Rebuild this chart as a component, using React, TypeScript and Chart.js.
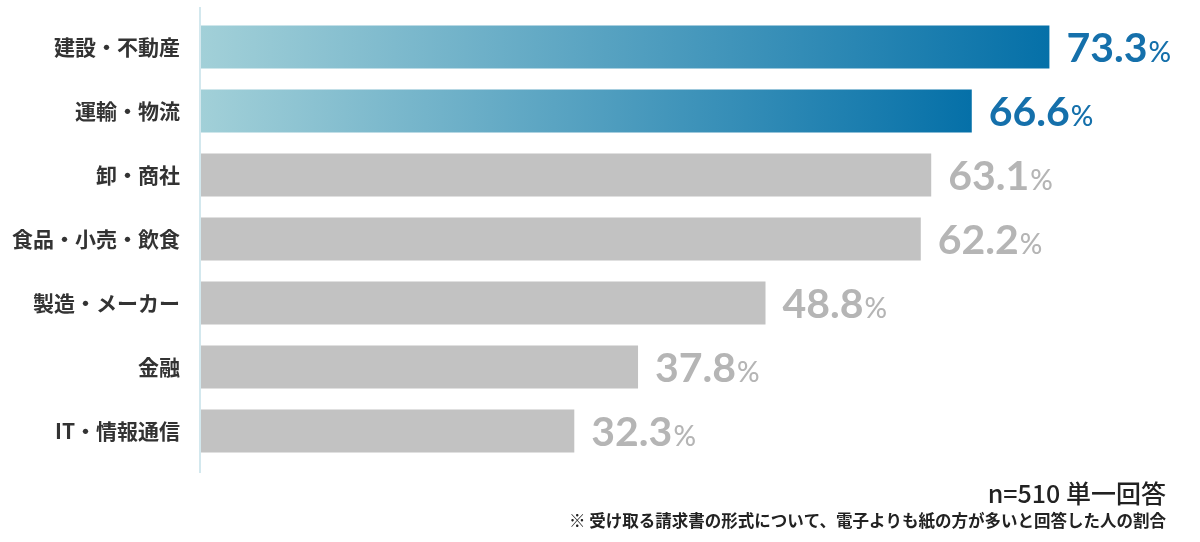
import React, { useEffect, useRef } from "react";
import { Chart, registerables } from "chart.js";

Chart.register(...registerables);

const categories = ["建設・不動産", "運輸・物流", "卸・商社", "食品・小売・飲食", "製造・メーカー", "金融", "IT・情報通信"];
const values = [73.3, 66.6, 63.1, 62.2, 48.8, 37.8, 32.3];
const highlighted = [true, true, false, false, false, false, false];
const sampleNote = "n=510 単一回答";
const footNote = "※ 受け取る請求書の形式について、電子よりも紙の方が多いと回答した人の割合";

const GRAY_BAR = "#c2c2c2";
const GRAY_TEXT = "#b5b5b5";
const BLUE_TEXT = "#1570ab";
const GRAD_LEFT = "#a2d0d8";
const GRAD_RIGHT = "#0570a8";

const overlayPlugin = {
  id: "overlay",
  afterDatasetsDraw(chart: any) {
    const ctx = chart.ctx;
    const area = chart.chartArea;
    ctx.save();
    // axis line
    ctx.strokeStyle = "#d3e8ee";
    ctx.lineWidth = 2;
    ctx.beginPath();
    ctx.moveTo(area.left, Math.max(area.top - 8, 5));
    ctx.lineTo(area.left, area.bottom + 10);
    ctx.stroke();

    const meta = chart.getDatasetMeta(0);
    meta.data.forEach((bar: any, i: number) => {
      const color = highlighted[i] ? BLUE_TEXT : GRAY_TEXT;
      const num = values[i].toFixed(1);
      const x = bar.x + 17;
      const y = bar.y + 15;
      ctx.fillStyle = color;
      ctx.textAlign = "left";
      ctx.textBaseline = "alphabetic";
      ctx.font = "bold 41px Lato";
      ctx.fillText(num, x, y);
      const w = ctx.measureText(num).width;
      ctx.font = "500 28px Lato";
      ctx.fillText("%", x + w + 1, y);
    });

    ctx.fillStyle = "#222";
    ctx.textAlign = "right";
    ctx.font = "500 25px 'Noto Sans CJK JP'";
    ctx.textBaseline = "middle";
    ctx.fillText(sampleNote, 1166, 493);
    ctx.font = "bold 16.5px 'Noto Sans CJK JP'";
    ctx.fillText(footNote, 1166, 521);
    ctx.restore();
  },
};

export default function App() {
  const ref = useRef<HTMLCanvasElement | null>(null);
  useEffect(() => {
    if (!ref.current) return;
    const chart = new Chart(ref.current, {
      type: "bar",
      data: {
        labels: categories,
        datasets: [
          {
            data: values,
            borderWidth: 0,
            barPercentage: 0.672,
            categoryPercentage: 1,
            backgroundColor: (c: any) => {
              const i = c.dataIndex;
              if (!highlighted[i]) return GRAY_BAR;
              const chartObj = c.chart;
              const area = chartObj.chartArea;
              if (!area) return GRAD_RIGHT;
              const x0 = chartObj.scales.x.getPixelForValue(0);
              const x1 = chartObj.scales.x.getPixelForValue(values[i]);
              const g = chartObj.ctx.createLinearGradient(x0, 0, x1, 0);
              g.addColorStop(0, GRAD_LEFT);
              g.addColorStop(1, GRAD_RIGHT);
              return g;
            },
          },
        ],
      },
      options: {
        indexAxis: "y",
        animation: false,
        responsive: false,
        maintainAspectRatio: false,
        layout: { padding: { left: 0, right: 15, top: 15, bottom: 79 } },
        plugins: { legend: { display: false }, tooltip: { enabled: false } },
        scales: {
          x: { display: false, min: 0, max: 85 },
          y: {
            grid: { display: false },
            border: { display: false },
            ticks: {
              padding: 12,
              color: "#333",
              font: { family: "'Noto Sans CJK JP'", size: 21, weight: "bold" },
            },
            afterFit: (s: any) => {
              s.width = 200;
              s.paddingTop = 0;
              s.paddingBottom = 0;
            },
          },
        },
      },
      plugins: [overlayPlugin],
    } as any);
    return () => chart.destroy();
  }, []);
  return (
    <div style={{ position: "absolute", left: 0, top: 0, width: 1200, height: 542, background: "#fff" }}>
      <canvas ref={ref} width={1200} height={542} style={{ width: 1200, height: 542 }} />
    </div>
  );
}
